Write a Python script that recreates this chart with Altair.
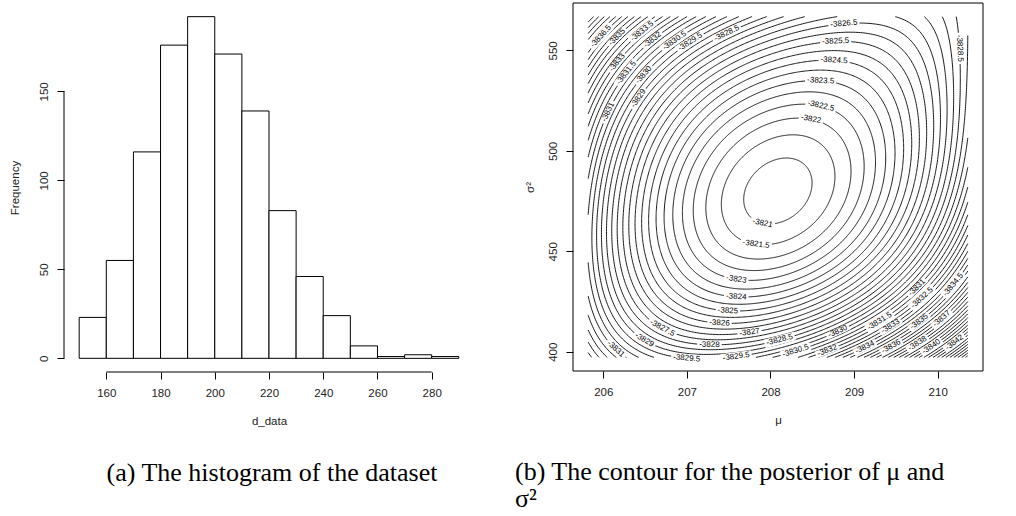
import numpy as np
import pandas as pd
import altair as alt

# ---------------- (a) histogram of d_data ----------------
BIN_START = [150, 160, 170, 180, 190, 200, 210, 220, 230, 240, 250, 260, 270, 280]
BIN_END = [160, 170, 180, 190, 200, 210, 220, 230, 240, 250, 260, 270, 280, 290]
COUNTS = [23, 55, 116, 176, 192, 171, 139, 83, 46, 24, 7, 1, 2, 1]
HIST_X_TICKS = [160, 180, 200, 220, 240, 260, 280]
HIST_Y_TICKS = [0, 50, 100, 150]
HIST_X_DOMAIN = [144.4, 295.6]
HIST_Y_DOMAIN = [-7.68, 199.68]

# ---------------- (b) contour of the log posterior ----------------
MU_GRID = [205.82, 210.36]
S2_GRID = [397.2, 566.8]
MU_TICKS = [206, 207, 208, 209, 210]
S2_TICKS = [400, 450, 500, 550]
PEAK_LEVEL, PEAK_MU, PEAK_S2 = -3820.75, 208.09, 481.0

# contour labels (level, mu, sigma^2)
LABEL_LEVEL = [-3826.5, -3825.5, -3824.5, -3823.5, -3822.5, -3822, -3821, -3821.5,
               -3823, -3824, -3825, -3826, -3827, -3827.5, -3828, -3829, -3831,
               -3829.5, -3829.5, -3828.5, -3830.5, -3830, -3832, -3831.5, -3833,
               -3835, -3837, -3831, -3832.5, -3834.5, -3834, -3836, -3838, -3840,
               -3842, -3828.5, -3836.5, -3835, -3833.5, -3832, -3830.5, -3829.5,
               -3828.5, -3833, -3831.5, -3830, -3831, -3829]
LABEL_MU = [208.88, 208.78, 208.76, 208.60, 208.60, 208.48, 207.92, 207.83,
            207.59, 207.59, 207.49, 207.39, 207.75, 206.70, 207.27, 206.48, 206.15,
            207.00, 207.59, 208.11, 208.30, 208.80, 208.68, 209.30, 209.43,
            209.77, 210.05, 209.75, 209.81, 210.20, 209.14, 209.45, 209.75, 209.93,
            210.20, 210.27, 205.97, 206.17, 206.48, 206.60, 206.84, 207.02,
            207.47, 206.17, 206.30, 206.50, 205.99, 206.44]
LABEL_S2 = [562.6, 554.2, 544.7, 534.6, 521.9, 514.8, 466.3, 454.2,
            435.7, 426.9, 419.8, 413.7, 409.6, 411.3, 403.8, 405.0, 401.3,
            397.7, 397.7, 405.8, 400.5, 410.5, 400.5, 415.5, 413.0,
            415.4, 416.3, 432.0, 427.0, 432.9, 401.3, 402.1, 404.6, 402.1,
            404.6, 551.0, 557.1, 556.3, 558.8, 554.7, 555.5, 555.5,
            559.0, 543.8, 538.0, 537.2, 520.6, 525.6]

TRACE_LEVEL = [-3821, -3821, -3821, -3821.5, -3821.5, -3821.5,
               -3822, -3823, -3824, -3825, -3826, -3827, -3828, -3829, -3830,
               -3822, -3823, -3824, -3825, -3826, -3827, -3828, -3829, -3830]
TRACE_MU = [207.67, 208.49, 208.17, 207.37, 208.78, 208.35,
            207.19, 206.94, 206.74, 206.58, 206.42, 206.29, 206.17, 206.03, 205.91,
            208.98, 209.25, 209.45, 209.63, 209.79, 209.93, 210.05, 210.16, 210.28]
TRACE_S2 = [473.6, 485.2, 495.2, 465.3, 490.2, 507.6,
            480.2, 480.2, 480.2, 480.2, 480.2, 480.2, 480.2, 480.2, 480.2,
            480.2, 480.2, 480.2, 480.2, 480.2, 480.2, 480.2, 480.2, 480.2]

FONT = "Liberation Sans"
SERIF = "Liberation Serif"
TXT = "#222222"
W_A, H_A = 410, 369
W_B, H_B = 410, 368

# ---- smooth surface through the read contour points ----
MU_C, S2_C = 208.1, 481.0


def design(mu, s2):
    u = (np.asarray(mu, float) - MU_C) / 1.2
    s = (np.asarray(s2, float) - S2_C) / 45.0
    return np.stack([u ** i * s ** j for i in range(5) for j in range(5 - i)], axis=-1)


fit_mu = np.array(LABEL_MU + TRACE_MU + [PEAK_MU])
fit_s2 = np.array(LABEL_S2 + TRACE_S2 + [PEAK_S2])
fit_lv = np.array(LABEL_LEVEL + TRACE_LEVEL + [PEAK_LEVEL])
wts = np.ones(len(fit_lv))
wts[-1] = 4.0
coef, *_ = np.linalg.lstsq(design(fit_mu, fit_s2) * wts[:, None], fit_lv * wts, rcond=None)


def surface(mu, s2):
    return design(mu, s2) @ coef


mu_w = MU_GRID[1] - MU_GRID[0]
s2_w = S2_GRID[1] - S2_GRID[0]
MU_DOM = [MU_GRID[0] - 0.04 * mu_w, MU_GRID[1] + 0.04 * mu_w]
S2_DOM = [S2_GRID[0] - 0.04 * s2_w, S2_GRID[1] + 0.04 * s2_w]
kx = W_B / (MU_DOM[1] - MU_DOM[0])
ky = H_B / (S2_DOM[1] - S2_DOM[0])

gm, gs = np.meshgrid(np.linspace(MU_GRID[0], MU_GRID[1], 300), np.linspace(S2_GRID[0], S2_GRID[1], 300))
GF = surface(gm, gs)
kmax = int(np.argmax(GF))
cmu, cs2 = gm.flat[kmax], gs.flat[kmax]
fmin = GF.min()

# ---- contour tracing along rays from the maximum ----
NA, NR = 720, 500
th = np.linspace(0, 2 * np.pi, NA, endpoint=False)
dxr, dyr = np.cos(th), np.sin(th)
with np.errstate(divide="ignore", invalid="ignore"):
    tx = np.where(dxr > 1e-12, (MU_GRID[1] - cmu) * kx / dxr,
                  np.where(dxr < -1e-12, (MU_GRID[0] - cmu) * kx / dxr, np.inf))
    ty = np.where(dyr > 1e-12, (S2_GRID[1] - cs2) * ky / dyr,
                  np.where(dyr < -1e-12, (S2_GRID[0] - cs2) * ky / dyr, np.inf))
tmax = np.minimum(tx, ty)
rr = np.linspace(0, 1, NR)[None, :] * tmax[:, None]
RM = cmu + rr * dxr[:, None] / kx
RS = cs2 + rr * dyr[:, None] / ky
RF = surface(RM, RS)

levels = []
lv = -3821.0
while lv > fmin:
    levels.append(lv)
    lv -= 0.5

rows = []
seg = 0
ia = np.arange(NA)
for L in levels:
    below = RF < L
    has = below.any(axis=1)
    j = np.maximum(np.argmax(below, axis=1), 1)
    f0, f1 = RF[ia, j - 1], RF[ia, j]
    t = np.clip((f0 - L) / (f0 - f1), 0, 1)
    pm = RM[ia, j - 1] + t * (RM[ia, j] - RM[ia, j - 1])
    ps = RS[ia, j - 1] + t * (RS[ia, j] - RS[ia, j - 1])
    if not has.any():
        continue
    if has.all():
        runs = [(list(range(NA)) + [0], None, None)]
    else:
        start = int(np.argmin(has))
        order = [(start + k) % NA for k in range(NA)]
        runs, cur = [], []
        for k in order:
            if has[k]:
                cur.append(k)
            else:
                if cur:
                    runs.append(cur)
                cur = []
        if cur:
            runs.append(cur)
        runs = [(r, (r[0] - 1) % NA, (r[-1] + 1) % NA) for r in runs]
    for run, kb, ka in runs:
        pts = [(pm[k], ps[k]) for k in run]
        if kb is not None:
            # close the ends on the edge of the grid
            def edge(kin, kout):
                fa, fb = RF[kin, -1], RF[kout, -1]
                w = (fa - L) / (fa - fb) if fa != fb else 0.0
                return (RM[kin, -1] + w * (RM[kout, -1] - RM[kin, -1]),
                        RS[kin, -1] + w * (RS[kout, -1] - RS[kin, -1]))
            pts = [edge(run[0], kb)] + pts + [edge(run[-1], ka)]
        if len(pts) < 2:
            continue
        for o, (a, b) in enumerate(pts):
            rows.append((seg, o, round(float(a), 4), round(float(b), 3)))
        seg += 1

contour_df = pd.DataFrame(rows, columns=["seg", "ord", "mu", "s2"])

# ---- labels: snap to their line, orient along it ----
lm = np.array(LABEL_MU, float)
ls = np.array(LABEL_S2, float)
ll = np.array(LABEL_LEVEL, float)


def grads(m, s):
    e1, e2 = 1e-4, 1e-2
    gmu = (surface(m + e1, s) - surface(m - e1, s)) / (2 * e1)
    gs2 = (surface(m, s + e2) - surface(m, s - e2)) / (2 * e2)
    return gmu / kx, gs2 / ky


for _ in range(8):
    gx, gy = grads(lm, ls)
    d = surface(lm, ls) - ll
    g2 = gx ** 2 + gy ** 2
    lm = lm - d * gx / g2 / kx
    ls = ls - d * gy / g2 / ky
gx, gy = grads(lm, ls)
ang = np.degrees(np.arctan2(-gx, -gy))
ang = np.where(ang > 90, ang - 180, ang)
ang = np.where(ang <= -90, ang + 180, ang)
ang = np.mod(ang, 360)
texts = [f"{v:g}" for v in LABEL_LEVEL]
char_w = {"-": 2.7, ".": 2.2}
widths = [sum(char_w.get(c, 4.45) for c in tx_) + 4 for tx_ in texts]
lab_df = pd.DataFrame({"mu": lm, "s2": ls, "txt": texts, "ang": ang,
                       "gs": [w_ ** 2 for w_ in widths]})

# ---------------- panel (a) ----------------
hist = pd.DataFrame({"start": BIN_START, "end": BIN_END, "count": COUNTS})
xa = alt.Scale(domain=HIST_X_DOMAIN, nice=False, zero=False)
ya = alt.Scale(domain=HIST_Y_DOMAIN, nice=False, zero=False)

bars = alt.Chart(hist).mark_rect(fill="white", stroke="black", strokeWidth=1).encode(
    x=alt.X("start:Q", scale=xa,
            axis=alt.Axis(values=HIST_X_TICKS, format="d", title="d_data", tickSize=7, labelPadding=8,
                          titleX=W_A / 2, titleY=49, titleBaseline="middle", titleAlign="center")),
    x2="end:Q",
    y=alt.Y("count:Q", scale=ya,
            axis=alt.Axis(values=HIST_Y_TICKS, format="d", title="Frequency", tickSize=7, labelAngle=270,
                          labelAlign="center", labelBaseline="bottom", labelPadding=8,
                          titleAngle=270, titleX=-49, titleY=H_A / 2, titleBaseline="middle",
                          titleAlign="center")),
    y2=alt.datum(0),
)
one = pd.DataFrame({"k": [0]})
xline = alt.Chart(one).mark_rule(color="black", strokeWidth=1).encode(
    x=alt.datum(HIST_X_TICKS[0]), x2=alt.datum(HIST_X_TICKS[-1]), y=alt.datum(HIST_Y_DOMAIN[0]))
yline = alt.Chart(one).mark_rule(color="black", strokeWidth=1).encode(
    y=alt.datum(HIST_Y_TICKS[0]), y2=alt.datum(HIST_Y_TICKS[-1]), x=alt.datum(HIST_X_DOMAIN[0]))

panel_a = alt.layer(bars, xline, yline).properties(
    width=W_A, height=H_A,
    title=alt.TitleParams("(a) The histogram of the dataset", orient="bottom", anchor="middle",
                          frame="group", dx=3, offset=33),
)

# ---------------- panel (b) ----------------
xb = alt.Scale(domain=MU_DOM, nice=False, zero=False)
yb = alt.Scale(domain=S2_DOM, nice=False, zero=False)

lines = alt.Chart(contour_df).mark_line(color="black", strokeWidth=0.9).encode(
    x=alt.X("mu:Q", scale=xb,
            axis=alt.Axis(values=MU_TICKS, format="d", title="μ", tickSize=7, labelPadding=8,
                          titleX=W_B / 2, titleY=49, titleBaseline="middle", titleAlign="center")),
    y=alt.Y("s2:Q", scale=yb,
            axis=alt.Axis(values=S2_TICKS, format="d", title="σ²", tickSize=7, labelAngle=270,
                          labelAlign="center", labelBaseline="bottom", labelPadding=8,
                          titleAngle=270, titleX=-43, titleY=H_B / 2, titleBaseline="middle",
                          titleAlign="center")),
    detail="seg:N",
    order="ord:Q",
)
RECT = "M -1 -0.28 L 1 -0.28 L 1 0.28 L -1 0.28 Z"
gaps = alt.Chart(lab_df).mark_point(shape=RECT, filled=True, fill="white", opacity=1,
                                    strokeWidth=0).encode(
    x=alt.X("mu:Q", scale=xb), y=alt.Y("s2:Q", scale=yb),
    size=alt.Size("gs:Q", scale=None),
    angle=alt.Angle("ang:Q", scale=None),
)
labels = alt.Chart(lab_df).mark_text(font=FONT, fontSize=8, color="black", align="center",
                                     baseline="middle").encode(
    x=alt.X("mu:Q", scale=xb), y=alt.Y("s2:Q", scale=yb),
    text="txt:N",
    angle=alt.Angle("ang:Q", scale=None),
)
box = alt.Chart(one).mark_rect(fillOpacity=0, stroke="black", strokeWidth=1).encode(
    x=alt.datum(MU_DOM[0]), x2=alt.datum(MU_DOM[1]), y=alt.datum(S2_DOM[0]), y2=alt.datum(S2_DOM[1]))

panel_b = alt.layer(lines, gaps, labels, box).properties(
    width=W_B, height=H_B,
    title=alt.TitleParams(["(b) The contour for the posterior of μ and", "σ²"], orient="bottom",
                          anchor="start", frame="group", dx=-58, offset=33, lineHeight=27),
)

chart = alt.hconcat(panel_a, panel_b, spacing=41).properties(
    padding={"left": 9, "top": 2, "right": 0, "bottom": 0}
).configure_axis(
    labelFont=FONT, labelFontSize=11.5, labelColor=TXT, titleFont=FONT, titleFontSize=11.5,
    titleFontWeight="normal", titleColor=TXT, tickColor="black", tickWidth=1, grid=False,
    domain=False,
).configure_view(strokeWidth=0).configure_title(
    font=SERIF, fontSize=26, fontWeight="normal", color="black"
)

chart.save("out.html", embed_options={"renderer": "svg", "actions": False})
